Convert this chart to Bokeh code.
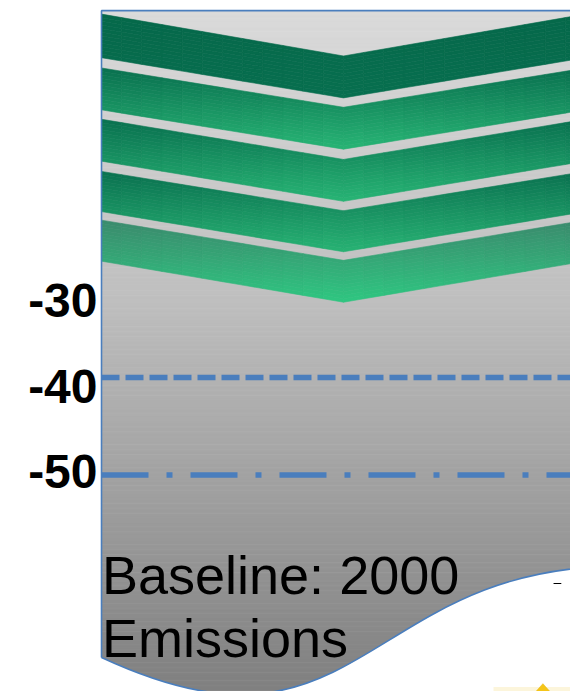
import numpy as np
from bokeh.plotting import figure
from bokeh.models import Range1d, FixedTicker
from bokeh.core.properties import value
from bokeh.embed import file_html
from bokeh.resources import INLINE

# ---------------- data ----------------
# y-axis ticks (% change vs. 2000 emissions)
tick_values = [-30, -40, -50]
tick_labels = ["-30", "-40", "-50"]

# target reference lines (levels as drawn) and their dash patterns
target_levels = [-39.0, -50.4]
target_dashes = ["18 6", "47 18 6 18"]

# chevron bands: levels at the outer ends and at the central tip
chev_x = [0, 50, 100]                      # left end, tip, right end
chev_end_top = [3.5, -2.8, -8.8, -14.9, -20.6]
chev_end_bottom = [-1.6, -7.7, -13.7, -19.6, -25.4]
chev_tip_top = [-1.4, -7.4, -13.5, -19.5, -25.3]
chev_tip_bottom = [-6.3, -12.3, -18.4, -24.3, -30.2]
chev_color_top = ["#05684a", "#09704f", "#09704f", "#0a7150", "#3b8a6d"]
chev_color_bottom = ["#076f4f", "#28b575", "#28b575", "#28b374", "#2ec781"]

# baseline "document" panel
panel_top = 3.9
panel_right = 97.0
wave_start = (107.4, -61.06)   # right end of the wavy bottom
wave_c0 = (53.7, -61.06)
wave_c1 = (53.7, -85.82)
wave_end = (0.0, -71.75)       # left end of the wavy bottom
bg_stop_levels = [-80.0, -30.0, 3.9]
bg_stop_gray = [122, 191, 218]

baseline_text = ["Baseline: 2000", "Emissions"]
baseline_text_y = [-62.16, -69.53]
baseline_text_x = 0.1

outline_color = "#4a7ebd"

# scale factors (px per data unit) used only for round decorations
PX_X, PX_Y = 4.84, 8.55

# ---------------- helpers ----------------
def hex2rgb(h):
    return np.array([int(h[i:i + 2], 16) for i in (1, 3, 5)], float)

def rgb2hex(c):
    c = np.clip(np.round(c), 0, 255).astype(int)
    return "#%02x%02x%02x" % tuple(c)

# ---------------- figure ----------------
p = figure(width=570, height=691,
           x_range=Range1d(-0.413, 96.9), y_range=Range1d(-75.73, 5.09),
           output_backend="svg", toolbar_location=None,
           x_axis_location=None, y_axis_location="left",
           min_border_left=99, min_border_right=0,
           min_border_top=0, min_border_bottom=0,
           outline_line_color=None,
           background_fill_color="white", border_fill_color="white")
p.grid.visible = False

ax = p.yaxis[0]
ax.ticker = FixedTicker(ticks=tick_values)
ax.major_label_overrides = {v: l for v, l in zip(tick_values, tick_labels)}
ax.major_label_text_font = "Liberation Sans"
ax.major_label_text_font_style = "bold"
ax.major_label_text_font_size = "48px"
ax.major_label_text_color = "black"
ax.axis_line_color = None
ax.major_tick_line_color = None
ax.minor_tick_line_color = None
ax.major_tick_out = 0
ax.major_tick_in = 0
ax.major_label_standoff = 2

# background gradient of the panel (horizontal strips)
edges = np.arange(panel_top, -77.0, -0.3)
tops, bots = edges[:-1], edges[1:]
mids = (tops + bots) / 2
grays = np.interp(mids, bg_stop_levels, bg_stop_gray)
bg_cols = [rgb2hex([g, g, g]) for g in grays]
p.quad(left=0, right=panel_right, top=tops, bottom=bots - 0.05,
       fill_color=bg_cols, line_color=bg_cols, line_width=0.5)

# chevron bands with vertical gradient (mesh of small cells)
nx, nt = 12, 12
cxs, cys, ccols = [], [], []
for i in range(len(chev_end_top)):
    c0, c1 = hex2rgb(chev_color_top[i]), hex2rgb(chev_color_bottom[i])
    box_top, box_bot = chev_end_top[i], chev_tip_bottom[i]
    for side in range(2):
        xa, xb = chev_x[side], chev_x[side + 1]
        if side == 0:
            tA, bA, tB, bB = chev_end_top[i], chev_end_bottom[i], chev_tip_top[i], chev_tip_bottom[i]
        else:
            tA, bA, tB, bB = chev_tip_top[i], chev_tip_bottom[i], chev_end_top[i], chev_end_bottom[i]
        for j in range(nx):
            u0, u1 = j / nx, (j + 1) / nx
            x0, x1 = xa + (xb - xa) * u0, xa + (xb - xa) * u1
            top0, bot0 = tA + (tB - tA) * u0, bA + (bB - bA) * u0
            top1, bot1 = tA + (tB - tA) * u1, bA + (bB - bA) * u1
            for k in range(nt):
                v0, v1 = k / nt, (k + 1) / nt
                ya0 = top0 + (bot0 - top0) * v0
                ya1 = top0 + (bot0 - top0) * v1
                yb0 = top1 + (bot1 - top1) * v0
                yb1 = top1 + (bot1 - top1) * v1
                ym = (ya0 + ya1 + yb0 + yb1) / 4
                f = (box_top - ym) / (box_top - box_bot)
                cxs.append([x0, x1, x1, x0])
                cys.append([ya0, yb0, yb1, ya1])
                ccols.append(rgb2hex(c0 + (c1 - c0) * f))
p.patches(cxs, cys, fill_color=ccols, line_color=ccols, line_width=0.6)

# white area below the wavy bottom edge
t = np.linspace(0, 1, 80)
P0, P1, P2, P3 = (np.array(v) for v in (wave_start, wave_c0, wave_c1, wave_end))
curve = ((1 - t) ** 3)[:, None] * P0 + (3 * (1 - t) ** 2 * t)[:, None] * P1 \
    + (3 * (1 - t) * t ** 2)[:, None] * P2 + (t ** 3)[:, None] * P3
mx = list(curve[:, 0]) + [-1.0, -1.0, 112.0, 112.0]
my = list(curve[:, 1]) + [wave_end[1], -90.0, -90.0, wave_start[1]]
p.patch(mx, my, fill_color="white", line_color=None)

# target lines
for lvl, dash in zip(target_levels, target_dashes):
    p.line([0, panel_right], [lvl, lvl], line_color=outline_color,
           line_width=5.5, line_dash=dash)

# label inside panel
p.text(x=[baseline_text_x] * 2, y=baseline_text_y, text=baseline_text,
       text_font=value("Liberation Sans"), text_font_size="54px",
       text_color="black", text_baseline="alphabetic", text_align="left")

# panel outline
p.line([wave_end[0], 0, panel_right], [wave_end[1], panel_top, panel_top],
       line_color=outline_color, line_width=1.6)
p.bezier(x0=[wave_start[0]], y0=[wave_start[1]], x1=[wave_end[0]], y1=[wave_end[1]],
         cx0=[wave_c0[0]], cy0=[wave_c0[1]], cx1=[wave_c1[0]], cy1=[wave_c1[1]],
         line_color=outline_color, line_width=1.6)

# small decorations at lower right
p.segment(x0=[93.4], y0=[-63.1], x1=[95.0], y1=[-63.1], line_color="black", line_width=1)
p.quad(left=[81.0], right=[97.0], top=[-75.2], bottom=[-76.0],
       fill_color="#fbf3d2", line_color=None, fill_alpha=0.8)
star_cx, star_cy, star_r_px = 91.2, -76.8, 17.0
ang = np.pi / 2 + np.arange(10) * np.pi / 5
rad = np.where(np.arange(10) % 2 == 0, 1.0, 0.68) * star_r_px
sx = star_cx + rad * np.cos(ang) / PX_X
sy = star_cy + rad * np.sin(ang) / PX_Y
p.patch(list(sx), list(sy), fill_color="#f5c518", line_color="#e6b400", line_width=0.5)

open("out.html", "w").write(file_html(p, INLINE))
